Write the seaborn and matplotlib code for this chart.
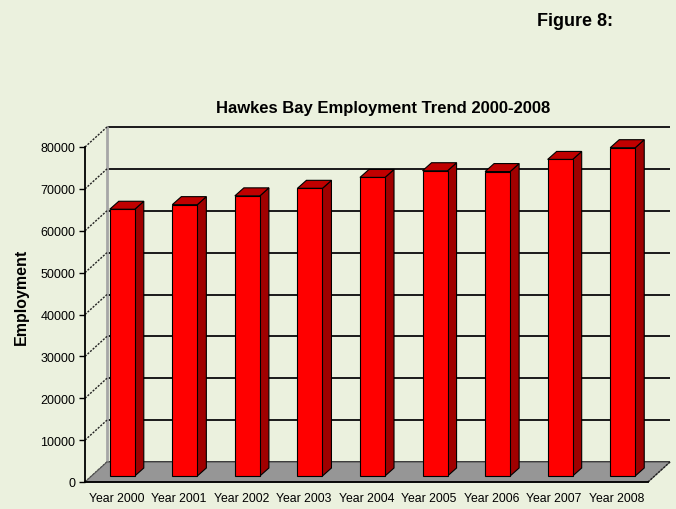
import matplotlib
matplotlib.use("Agg")
import matplotlib.pyplot as plt
import seaborn as sns
from matplotlib.patches import Polygon

years = ["Year 2000", "Year 2001", "Year 2002", "Year 2003", "Year 2004",
         "Year 2005", "Year 2006", "Year 2007", "Year 2008"]
employment = [63700, 64800, 66900, 68700, 71300, 72900, 72700, 75600, 78400]
y_ticks = [0, 10000, 20000, 30000, 40000, 50000, 60000, 70000, 80000]

title = "Hawkes Bay Employment Trend 2000-2008"
fig_label = "Figure 8:"
y_label = "Employment"

BG = "#EBF1DE"
sns.set_style("white")
plt.rcParams["font.family"] = ["Liberation Sans", "DejaVu Sans"]
plt.rcParams["text.color"] = "black"
plt.rcParams["xtick.color"] = "black"
plt.rcParams["ytick.color"] = "black"

W, H = 676, 510
fig = plt.figure(figsize=(W / 100, H / 100), dpi=100, facecolor=BG)
left_px, right_px, bottom_px, top_px = 85, 648, 483, 148
ax = fig.add_axes([left_px / W, 1 - bottom_px / H, (right_px - left_px) / W,
                   (bottom_px - top_px) / H])
ax.set_facecolor("none")

n = len(years)
xmin, xmax = -0.5, n - 0.5
ymin, ymax = 0, 80000
ux = (xmax - xmin) / (right_px - left_px)   # data per px in x
uy = (ymax - ymin) / (bottom_px - top_px)   # data per px in y

# depth offsets (px)
Dx, Dy = 22 * ux, 20 * uy        # full depth of plot
bx, by = 6 * ux, 6 * uy          # bar front offset
bdx, bdy = 9 * ux, 8 * uy        # bar depth

# back wall gridlines
for v in y_ticks:
    ax.plot([xmin + Dx, xmax + Dx], [v + Dy, v + Dy], color="#1a1a1a", lw=1.4,
            zorder=0.5, clip_on=False, solid_capstyle="butt")
    # left wall diagonal ticks
    ax.plot([xmin, xmin + Dx], [v, v + Dy], color="#222222", lw=1.0,
            ls=(0, (1.5, 1)), zorder=0.6, clip_on=False)
# back-left vertical edge
ax.plot([xmin + Dx, xmin + Dx], [Dy, ymax + Dy], color="#A6A6A6", lw=2,
        zorder=0.55, clip_on=False)

# floor
floor = Polygon([(xmin, 0), (xmax, 0), (xmax + Dx, Dy), (xmin + Dx, Dy)],
                closed=True, facecolor="#969696", edgecolor="#555555", lw=0.8,
                zorder=1, clip_on=False)
ax.add_patch(floor)
ax.plot([xmax, xmax + Dx], [0, Dy], color="#222222", lw=1.0, ls=(0, (1.5, 1)),
        zorder=1.1, clip_on=False)

# bars (front faces)
sns.barplot(x=years, y=employment, color="#FF0000", width=0.4, saturation=1,
            edgecolor="black", linewidth=0.8, ax=ax, zorder=3)

for p in list(ax.patches):
    if p is floor:
        continue
    x0 = p.get_x() + bx
    w = p.get_width()
    h = p.get_height()
    p.set_x(x0)
    p.set_y(by)
    p.set_zorder(3)
    p.set_clip_on(False)
    x1 = x0 + w
    side = Polygon([(x1, by), (x1 + bdx, by + bdy), (x1 + bdx, by + h + bdy),
                    (x1, by + h)], closed=True, facecolor="#A00000",
                   edgecolor="black", lw=0.8, zorder=2.9, clip_on=False)
    top = Polygon([(x0, by + h), (x0 + bdx, by + h + bdy),
                   (x1 + bdx, by + h + bdy), (x1, by + h)], closed=True,
                  facecolor="#C00000", edgecolor="black", lw=0.8, zorder=2.95,
                  clip_on=False)
    ax.add_patch(side)
    ax.add_patch(top)

ax.set_xlim(xmin, xmax)
ax.set_ylim(ymin, ymax)
ax.set_yticks(y_ticks)
ax.set_yticklabels([str(v) for v in y_ticks])
ax.set_xticks(range(n))
ax.set_xticklabels(years)
ax.set_xticks([i - 0.5 for i in range(n + 1)], minor=True)
ax.tick_params(axis="x", which="major", length=0, labelsize=8.8, pad=7,
               labelcolor="black")
ax.tick_params(axis="x", which="minor", length=4, width=1, color="black",
               direction="out")
ax.tick_params(axis="y", length=4, width=1, color="black", direction="out",
               labelsize=9, pad=3, left=True, labelcolor="black")
ax.set_xlabel("")
ax.set_ylabel("")
for s in ["top", "right"]:
    ax.spines[s].set_visible(False)
for s in ["left", "bottom"]:
    ax.spines[s].set_visible(True)
    ax.spines[s].set_color("black")
    ax.spines[s].set_linewidth(1.3)
    ax.spines[s].set_zorder(4)
ax.grid(False)

fig.text(383 / W, 1 - 109 / H, title, ha="center", va="center",
         fontsize=12, fontweight="bold", color="black")
fig.text(575 / W, 1 - 22 / H, fig_label, ha="center", va="center",
         fontsize=13, fontweight="bold", color="black",
         family=["Liberation Sans Narrow", "Liberation Sans", "DejaVu Sans"])
fig.text(21 / W, 1 - 297 / H, y_label, ha="center", va="center",
         rotation=90, fontsize=11.5, fontweight="bold", color="black")

fig.savefig("out.png", dpi=100, facecolor=BG)
